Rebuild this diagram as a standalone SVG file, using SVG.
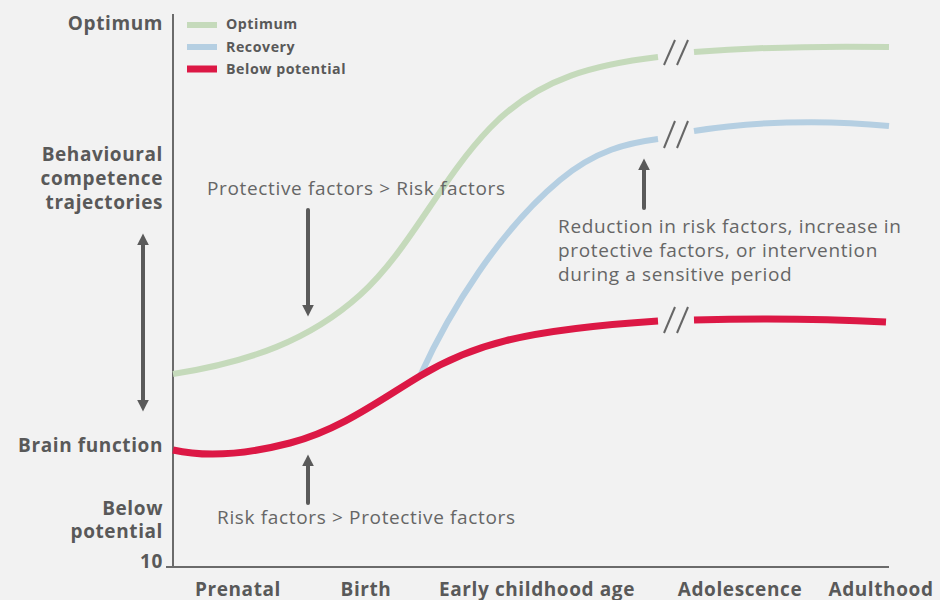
<svg xmlns="http://www.w3.org/2000/svg" width="940" height="600" viewBox="0 0 940 600">
  <style>
    .lbl { font-family: "Open Sans", "Liberation Sans", sans-serif; font-weight: bold; font-size: 19px; letter-spacing: 0.6px; fill: #595959; }
    .leg { font-family: "Open Sans", "Liberation Sans", sans-serif; font-weight: bold; font-size: 14.2px; letter-spacing: 0.55px; fill: #595959; }
    .note { font-family: "Open Sans", "Liberation Sans", sans-serif; font-size: 19px; letter-spacing: 0.65px; fill: #666666; }
    .axis { stroke: #6b6b6b; stroke-width: 2; fill: none; }
    .opt { stroke: #c5dabb; stroke-width: 6; fill: none; }
    .rec { stroke: #b5cfe2; stroke-width: 6; fill: none; }
    .low { stroke: #dc1845; stroke-width: 7; fill: none; }
    .brk { stroke: #666666; stroke-width: 2; }
    .arr { stroke: #5a5a5a; stroke-width: 4; stroke-linecap: round; fill: none; }
  </style>
  <defs>
    <marker id="head" viewBox="0 0 10 10" refX="2" refY="5" markerWidth="3" markerHeight="3" orient="auto-start-reverse" markerUnits="strokeWidth">
      <path d="M0,0 L10,5 L0,10 Z" fill="#5a5a5a"/>
    </marker>
  </defs>
  <rect width="940" height="600" fill="#f2f2f2"/>

  <!-- axes -->
  <g id="axes">
    <line class="axis" x1="173" y1="14" x2="173" y2="567"/>
    <line class="axis" x1="166" y1="567" x2="889" y2="567"/>
  </g>

  <!-- y-axis labels -->
  <g id="y-labels" text-anchor="end">
    <text class="lbl" x="163" y="30">Optimum</text>
    <text class="lbl" x="163" y="161">Behavioural</text>
    <text class="lbl" x="163" y="185">competence</text>
    <text class="lbl" x="163" y="209">trajectories</text>
    <text class="lbl" x="163" y="452">Brain function</text>
    <text class="lbl" x="163" y="515">Below</text>
    <text class="lbl" x="163" y="538">potential</text>
    <text class="lbl" x="163" y="568">10</text>
  </g>

  <!-- x-axis labels -->
  <g id="x-labels" text-anchor="middle">
    <text class="lbl" x="238" y="596">Prenatal</text>
    <text class="lbl" x="366" y="596">Birth</text>
    <text class="lbl" x="537" y="596">Early childhood age</text>
    <text class="lbl" x="740" y="596">Adolescence</text>
    <text class="lbl" x="881" y="596">Adulthood</text>
  </g>

  <!-- legend -->
  <g id="legend">
    <line class="opt" x1="187" y1="25" x2="217" y2="25"/>
    <text class="leg" x="226" y="29">Optimum</text>
    <line class="rec" x1="187" y1="47" x2="217" y2="47"/>
    <text class="leg" x="226" y="52">Recovery</text>
    <line class="low" x1="187" y1="69" x2="217" y2="69"/>
    <text class="leg" x="226" y="74">Below potential</text>
  </g>

  <!-- trajectories -->
  <g id="curves">
    <path id="optimum" class="opt" d="M173,374 C250,362 310,340 360,295 C410,250 440,180 490,128 C540,76 600,64 658,57"/>
    <path id="optimum-late" class="opt" d="M694,52 C760,47 830,46 889,47"/>
    <path id="recovery" class="rec" d="M420,376 C450,310 500,230 560,180 C596,150 628,143 658,139"/>
    <path id="recovery-late" class="rec" d="M694,131 C750,122 820,119 889,126"/>
    <path id="below" class="low" d="M173,450 C200,456 240,456 290,443 C340,430 380,400 420,376 C470,346 520,330 658,321"/>
    <path id="below-late" class="low" d="M694,320 C760,318 830,319 886,322"/>
  </g>

  <!-- axis breaks -->
  <g id="breaks">
    <line class="brk" x1="664" y1="65" x2="675" y2="40"/>
    <line class="brk" x1="677" y1="65" x2="688" y2="40"/>
    <line class="brk" x1="664" y1="148" x2="675" y2="121"/>
    <line class="brk" x1="677" y1="148" x2="688" y2="121"/>
    <line class="brk" x1="664" y1="333" x2="675" y2="307"/>
    <line class="brk" x1="677" y1="333" x2="688" y2="307"/>
  </g>

  <!-- arrows -->
  <g id="connectors">
    <line class="arr" x1="143" y1="243" x2="143" y2="402" marker-start="url(#head)" marker-end="url(#head)"/>
    <line class="arr" x1="308" y1="210" x2="308" y2="307" marker-end="url(#head)"/>
    <line class="arr" x1="308" y1="503" x2="308" y2="464" marker-end="url(#head)"/>
    <line class="arr" x1="644" y1="208" x2="644" y2="168" marker-end="url(#head)"/>
  </g>

  <!-- annotations -->
  <g id="notes">
    <text class="note" x="207" y="195">Protective factors &gt; Risk factors</text>
    <text class="note" x="217" y="524">Risk factors &gt; Protective factors</text>
    <text class="note" x="558" y="233">Reduction in risk factors, increase in</text>
    <text class="note" x="558" y="257">protective factors, or intervention</text>
    <text class="note" x="558" y="281">during a sensitive period</text>
  </g>
</svg>
